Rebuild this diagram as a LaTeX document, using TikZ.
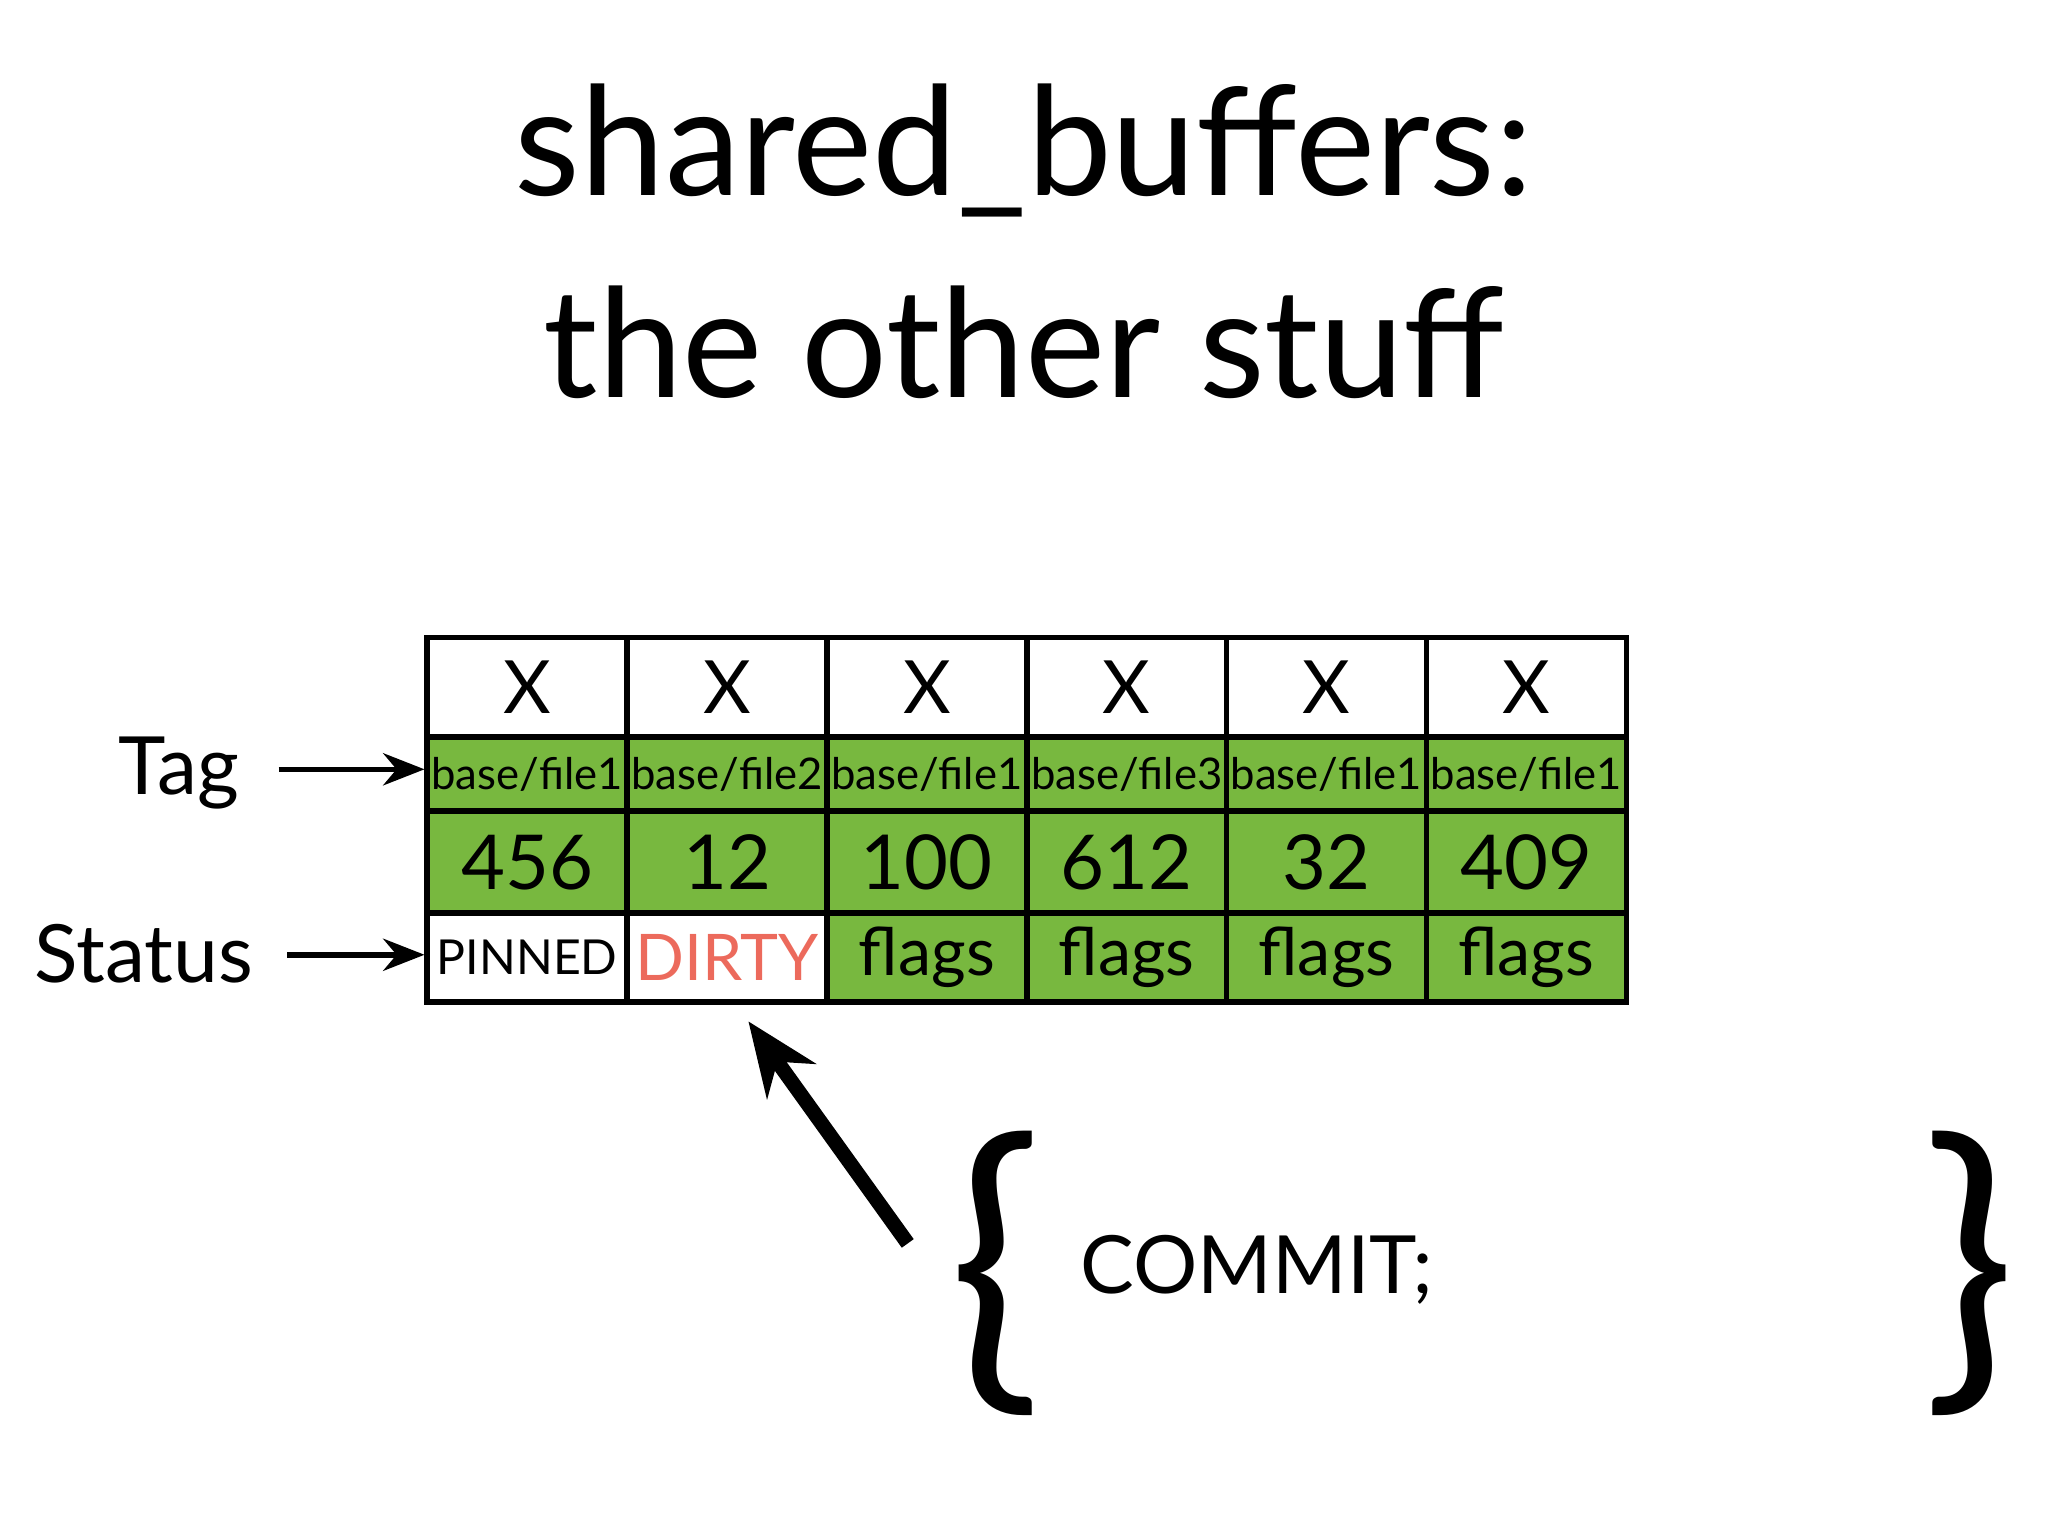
\documentclass[tikz,border=0pt]{standalone}
\usepackage{fontspec}
\setmainfont{Lato}
\usetikzlibrary{arrows.meta}
\definecolor{cgreen}{HTML}{78B83F}
\definecolor{cred}{HTML}{EC6A5C}
\begin{document}
\begin{tikzpicture}[x=0.01cm,y=-0.01cm,
  cell/.style={draw=black,line width=1.2pt,minimum width=1.53cm,inner sep=0pt,anchor=north west},
  ptr/.style={-{Stealth[length=9pt,width=7pt]},line width=1.2pt}]
\useasboundingbox (0,0) rectangle (1568,1176);
\node (t1) at (784,115) {\fontsize{33}{40}\selectfont shared\_buffers:};
\node (t2) at (784,262) {\fontsize{33}{40}\selectfont the other stuff};
\foreach \i/\tg/\n/\st/\sc [count=\k] in {0/base\slash file1/456/PINNED/w,1/base\slash file2/12/DIRTY/d,2/base\slash file1/100/flags/g,3/base\slash file3/612/flags/g,4/base\slash file1/32/flags/g,5/base\slash file1/409/flags/g}{
  \node[cell,minimum height=0.76cm] (x\k) at (325+153*\i,486) {\fontsize{16}{20}\selectfont X};
  \node[cell,fill=cgreen,minimum height=0.57cm] (g\k) at (325+153*\i,562) {\fontsize{9.5}{12}\selectfont \tg};
  \node[cell,fill=cgreen,minimum height=0.78cm] (n\k) at (325+153*\i,619) {\fontsize{16.5}{20}\selectfont \n};
  \if\sc w
    \node[cell,minimum height=0.68cm] (s\k) at (325+153*\i,697) {\fontsize{10.5}{14}\selectfont \st};
  \else\if\sc d
    \node[cell,minimum height=0.68cm,text=cred] (s\k) at (325+153*\i,697) {\fontsize{14}{18}\selectfont \st};
  \else
    \node[cell,fill=cgreen,minimum height=0.68cm] (s\k) at (325+153*\i,697) {\fontsize{14.5}{18}\selectfont \st};
  \fi\fi
}
\node (tag) at (137,592) {\fontsize{17.5}{22}\selectfont Tag};
\node (status) at (110,730) {\fontsize{17.5}{22}\selectfont Status};
\draw[ptr] (tag.east)++(18,-3) coordinate (ta) -- (g1.west|-ta);
\draw[ptr] (status.east)++(14,1) coordinate (sa) -- (s1.west|-sa);
\coordinate (from) at (695,952);
\draw[-{Stealth[length=16pt,width=13pt]},line width=3.2pt] (from) -- (573,782);
\node (lb) at (762,975) {\fontsize{68}{70}\selectfont \{};
\node (rb) at (1508,975) {\fontsize{68}{70}\selectfont \}};
\node[anchor=west] (commit) at (815,972) {\fontsize{17.5}{22}\selectfont COMMIT;};
\end{tikzpicture}
\end{document}
